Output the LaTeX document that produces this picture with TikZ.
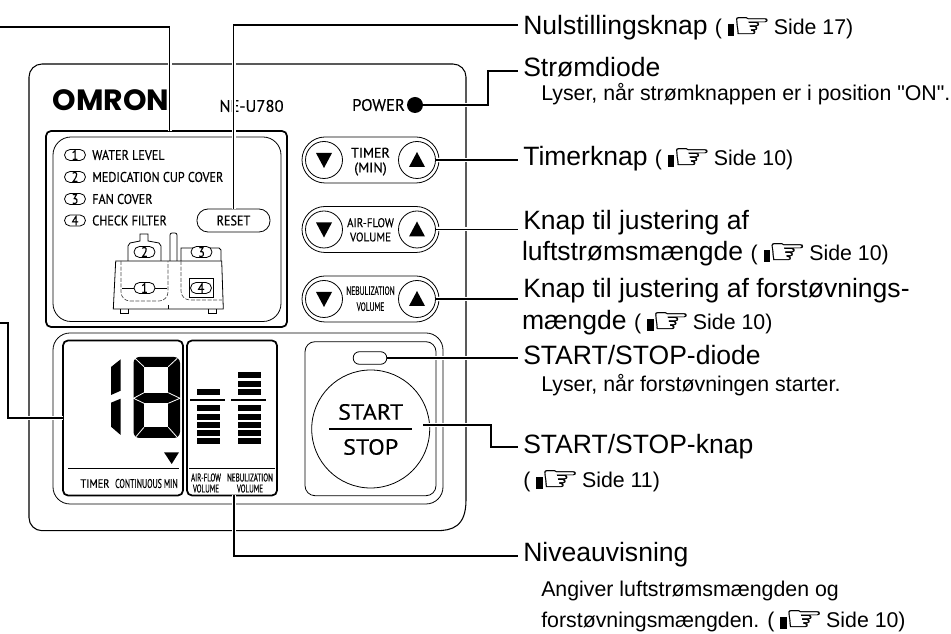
\documentclass[tikz,border=0pt]{standalone}
\usepackage{fontspec}
\setmainfont{Liberation Sans}
\newfontfamily\rawfont{Liberation Sans}
\newfontfamily\plainpanel[FakeBold=0.3]{PT Sans}
\newfontfamily\panelfont[FakeStretch=0.87,FakeBold=0.3]{PT Sans}
\newfontfamily\tightfont[FakeStretch=0.62,FakeBold=0.2]{PT Sans}
\newfontfamily\widefont[FakeStretch=1.1,FakeBold=0.3]{PT Sans}
\newfontfamily\logofont[FakeStretch=1.02]{Poppins}
\newfontfamily\handfont[FakeStretch=1.2,FakeBold=0.4]{DejaVu Sans}
\usetikzlibrary{positioning,calc}
\def\px{.75pt}
\newcommand{\handicon}{\rule[-.5pt]{4.8pt}{9pt}\kern-1.5pt\smash{\raisebox{-2pt}{\handfont\fontsize{27}{20}\selectfont\symbol{"261E}}}}
\newcommand{\siderefa}[1]{{\fontsize{16}{18}\selectfont( \handicon{}\kern2pt Side #1)}}
\tikzset{thinline/.style={draw=black,line width=.6pt},thickline/.style={draw=black,line width=1.3pt},dashline/.style={draw=black!70,line width=.5pt,dash pattern=on 3pt off 1.2pt},leader/.style={draw=black,line width=1pt,preaction={draw=white,line width=3pt}},callout/.style={anchor=base west,inner sep=0pt,inner xsep=3.75pt,font=\fontsize{19.9}{22}\selectfont},subnote/.style={anchor=base west,inner sep=0pt,font=\fontsize{16}{18}\selectfont},pnl/.style={inner sep=0pt,font=\panelfont\fontsize{#1}{#1}\selectfont},tgt/.style={inner sep=0pt,font=\tightfont\fontsize{#1}{#1}\selectfont},plainpnl/.style={inner sep=0pt,font=\plainpanel\fontsize{#1}{#1}\selectfont},numpill/.style={draw=black,line width=.6pt,fill=white,rounded corners=5.5*\px,minimum width=21*\px,minimum height=11*\px,inner sep=0pt,font=\panelfont\fontsize{10.5}{10.5}\selectfont},roundkey/.style={circle,draw=black,line width=.6pt,minimum size=37*\px,inner sep=0pt}}
\begin{document}
\begin{tikzpicture}[x=.75pt,y=-.75pt]
\useasboundingbox (0,0) rectangle (951,634);
% housing and panels
\draw[draw=black,line width=.8pt] (466,500) [rounded corners=13*\px] -- (466,64) -- (29,64) -- (29,530.7) -- (423,530.7) [sharp corners] .. controls (452,530.7) and (466,527) .. (466,500);
\draw[thickline,rounded corners=5*\px] (46,131) rectangle (287,327);
\draw[thinline,rounded corners=18*\px] (53,137) rectangle (281,321.5);
\draw[thinline,rounded corners=17*\px] (53,333) rectangle (443,504);
\node[inner sep=0pt,font=\logofont\bfseries\fontsize{22}{22}\selectfont] (logo) at (111,100.5) {OMRON};
\node[plainpnl=12.5] (model) at (251.5,106) {NE-U780};
\node[plainpnl=12.5] (powertxt) at (378.5,105) {POWER};
\node[circle,fill=black,minimum size=16*\px,inner sep=0pt] (powerled) at (415,105) {};
% legend
\node[numpill] (legA) at (75,155) {1};\node[pnl=10.5,anchor=west] (legAtxt) at (92,155) {WATER LEVEL};
\node[numpill] (legB) at (75,177) {2};\node[pnl=10.5,anchor=west] (legBtxt) at (92,177) {MEDICATION CUP COVER};
\node[numpill] (legC) at (75,199) {3};\node[pnl=10.5,anchor=west] (legCtxt) at (92,199) {FAN COVER};
\node[numpill] (legD) at (75,220.5) {4};\node[pnl=10.5,anchor=west] (legDtxt) at (92,220.5) {CHECK FILTER};
\node[draw=black,line width=.6pt,rounded corners=11*\px,minimum width=73*\px,minimum height=23*\px,inner sep=0pt,font=\panelfont\fontsize{10.5}{10.5}\selectfont] (reset) at (233.5,220.5) {RESET};
% unit sketch
\draw[thinline] (115.7,261)--(221.7,261)--(223.3,309)--(113.3,309)--cycle;
\draw[thinline] (120,309)--(120,313)--(128,313)--(128,309);\draw[thinline] (208,309)--(208,313)--(216,313)--(216,309);
\draw[thinline] (128,261)--(128,246)--(130,243)--(140,241)--(140,234)--(148,234)--(148,241)--(159,243)--(161,246)--(161,261);
\draw[thinline,rounded corners=2*\px] (170,261)--(170,233)--(177,233)--(177,261);
\draw[thinline] (181,261)--(181,248)--(219,248)--(221,250)--(221,261);
\draw[dashline,rounded corners=9*\px] (121,261)--(121,301)--(168,301)--(168,261);
\draw[dashline,rounded corners=9*\px] (181,261)--(181,300)--(222,300);
\draw[thinline] (168,305)--(168,309);
\draw[thinline] (189,278) rectangle (213,297);
\node[numpill] (sketchB) at (144.5,252) {2};\node[numpill] (sketchC) at (201.5,252) {3};
\node[numpill] (sketchA) at (144.5,288) {1};\node[numpill] (sketchD) at (201,288) {4};
\draw[thinline] (122,288)--(sketchA.west);\draw[thinline] (sketchA.east)--(167,288);
% control keys
\foreach \keyname/\keyy in {timer/160,air/229.5,neb/299}{
\draw[thinline,rounded corners=23*\px] (302,\keyy-23) rectangle (439,\keyy+23);
\node[roundkey] (\keyname down) at (324,\keyy) {};\node[roundkey] (\keyname up) at (417,\keyy) {};
\fill (316,\keyy-7)--(332,\keyy-7)--(324,\keyy+8)--cycle;
\fill (409,\keyy+7)--(425,\keyy+7)--(417,\keyy-8)--cycle;}
\node[plainpnl=10.5] (timertxt) at (370.5,152.7) {TIMER};\node[plainpnl=10.5] (mintxt) at (370.5,169) {(MIN)};
\node[pnl=9.5] (airtxt) at (370.5,222.7) {AIR-FLOW};\node[pnl=9.5] (airvol) at (370.5,237) {VOLUME};
\node[tgt=9] (nebtxt) at (370.5,290.7) {NEBULIZATION};\node[tgt=9] (nebvol) at (370.5,306.7) {VOLUME};
% display
\draw[thickline,rounded corners=5*\px] (63,340.5) rectangle (183,495.5);
\draw[thickline,rounded corners=5*\px] (187,340.5) rectangle (277,495.5);
\coordinate (timerbox) at (63,418);\coordinate (levelbox) at (234,495.5);
\fill (120.7,359.3)--(111,367)--(111,395)--(120.7,390.7)--cycle;
\fill (111,402.7)--(120.7,398.7)--(120.7,435)--(111,426.7)--cycle;
\fill[rounded corners=6*\px] (133.5,357) rectangle (180,438);
\fill[white] (144,366.7) rectangle (168.3,392.7);\fill[white] (144,403.3) rectangle (168.3,427.3);
\draw[white,line width=.6pt] (144,366.7)--(135,358.3) (168.3,366.7)--(177.3,358.3) (144,392.7)--(133.5,398.3)--(144,403.3) (168.3,392.7)--(180,398.3)--(168.3,403.3) (144,427.3)--(136,436.7) (168.3,427.3)--(176.7,436.7);
\fill (164,452.3)--(179,452.3)--(171.7,464)--cycle;
\draw[thinline,line width=.75pt] (68,469)--(179,469);\draw[thinline,line width=.75pt] (189,469)--(275,469);
\foreach \bary in {392,408,417,425.3,433.3,441}{\fill (196.7,\bary-3) rectangle (220,\bary+3);}
\foreach \bary in {375,383.7,392,408,417,425.3,433.3,441}{\fill (238.3,\bary-3) rectangle (261,\bary+3);}
\fill (190,399.2) rectangle (225,401.4);\fill (231,399.2) rectangle (266,401.4);
\node[pnl=9] (timerlbl) at (95,483.5) {TIMER};\node[tgt=9.5,anchor=east] (contlbl) at (178,483.5) {CONTINUOUS MIN};
\node[tgt=8.5] (airlbl) at (206,477.5) {AIR-FLOW};\node[tgt=8.5] (neblbl) at (250,477.5) {NEBULIZATION};
\node[tgt=8.5] (airvollbl) at (206,488.5) {VOLUME};\node[tgt=8.5] (nebvollbl) at (250,488.5) {VOLUME};
% start key
\draw[thinline,rounded corners=10*\px] (305,341.7) rectangle (436,495.7);
\node[draw=black,line width=.6pt,rounded corners=6*\px,minimum width=33.5*\px,minimum height=12.5*\px,inner sep=0pt] (startled) at (370,358) {};
\node[circle,draw=black,line width=.6pt,minimum size=118*\px,inner sep=0pt] (startkey) at (370.7,429) {};
\node[inner sep=0pt,font=\widefont\fontsize{16.5}{16.5}\selectfont] (starttxt) at (370.7,412) {START};\node[inner sep=0pt,font=\widefont\fontsize{16.5}{16.5}\selectfont] (stoptxt) at (370.7,447) {STOP};
\fill (329,427.7) rectangle (412,430.3);
% callouts
\node[callout] (nul) at (518,35) {Nulstillingsknap \siderefa{17}};
\node[callout] (diode) at (518,77) {Strømdiode};
\node[subnote] (diodenote) at (541,101) {\rawfont Lyser, når strømknappen er i position "ON".};
\node[callout] (timerknap) at (518,166) {Timerknap \siderefa{10}};
\node[callout] (airknap) at (518,230) {Knap til justering af};
\node[subnote,font=\fontsize{19.9}{22}\selectfont] (airknapb) at (521.75,261) {luftstrømsmængde \siderefa{10}};
\node[callout] (nebknap) at (518,298) {Knap til justering af forstøvnings-};
\node[subnote,font=\fontsize{19.9}{22}\selectfont] (nebknapb) at (521.75,330) {mængde \siderefa{10}};
\node[callout] (startdiode) at (518,365) {START/STOP-diode};
\node[subnote] (startnote) at (541,392) {Lyser, når forstøvningen starter.};
\node[callout] (startknap) at (518,454) {START/STOP-knap};
\node[subnote] (startref) at (523,488) {\siderefa{11}};
\node[callout] (niveau) at (518,562) {Niveauvisning};
\node[subnote] (niveaunote) at (541,597) {Angiver luftstrømsmængden og};
\node[subnote] (niveaunoteb) at (541,628) {forstøvningsmængden. \siderefa{10}};
% leaders
\coordinate (leftA) at (0,27);\coordinate (leftB) at (0,323);\coordinate (bendB) at (8,323);
\draw[leader] (leftA)-|(169.5,131);
\draw[leader] (leftB)--(bendB)--(bendB|-timerbox)--(timerbox);
\draw[leader] (reset.north)|-(nul.west|-0,25);
\draw[leader] (powerled.east)-|(488,71)--(diode.west|-0,71);
\draw[leader] (timerup.east)--(timerup.east-|timerknap.west);
\draw[leader] (airup.east)--(airup.east-|airknap.west);
\draw[leader] (nebup.east)--(nebup.east-|nebknap.west);
\draw[leader] (startled.east)--(startled.east-|startdiode.west);
\draw[leader] (423,425)-|(491,447)--(startknap.west|-0,447);
\draw[leader] (levelbox)|-(niveau.west|-0,556);
\end{tikzpicture}
\end{document}
